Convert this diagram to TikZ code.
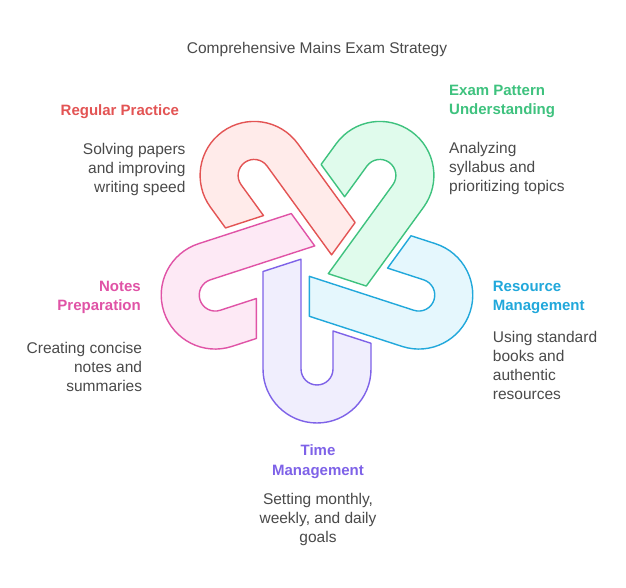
\documentclass[tikz,border=0pt]{standalone}
\usepackage{fontspec}
\setmainfont{Liberation Sans}
\definecolor{redS}{HTML}{E35454}
\definecolor{redF}{HTML}{FFEBEA}
\definecolor{greenS}{HTML}{3EC27E}
\definecolor{greenF}{HTML}{E0FBEC}
\definecolor{blueS}{HTML}{21A8DB}
\definecolor{blueF}{HTML}{E5F7FD}
\definecolor{purpS}{HTML}{7E62E8}
\definecolor{purpF}{HTML}{F0EEFD}
\definecolor{pinkS}{HTML}{E053A6}
\definecolor{pinkF}{HTML}{FDE9F5}
\definecolor{txt}{HTML}{4A4A4A}
\tikzset{
  loopshape/.style={line width=1.4pt, line join=round},
  headtext/.style={font=\fontsize{15}{19.5}\selectfont\bfseries, inner sep=0pt},
  desctext/.style={font=\fontsize{15.5}{19}\selectfont, text=txt, inner sep=0pt},
}
\newcommand{\hairpin}[3]{%
  \begin{scope}[shift={(317,326)}, rotate=#1]
    \draw[loopshape, draw=#2, fill=#3]
      (-54,-9.5) -- (-16,2.8) -- (-16,-107)
      arc[start angle=180, end angle=360, radius=16]
      -- (16,-69) -- (54,-81.3) -- (54,-107)
      arc[start angle=0, end angle=-180, radius=54] -- cycle;
  \end{scope}}
\begin{document}
\begin{tikzpicture}[x=1pt,y=1pt]
\useasboundingbox[fill=white] (0,0) rectangle (626,588);
\coordinate (C) at (317,326);
\hairpin{0}{purpS}{purpF}
\hairpin{-72}{pinkS}{pinkF}
\hairpin{-144}{redS}{redF}
\hairpin{144}{greenS}{greenF}
\hairpin{72}{blueS}{blueF}

\node[desctext] (title) at (317,538.5) {Comprehensive Mains Exam Strategy};

\node[headtext, text=redS, anchor=east] (h1) at (179.3,476.5) {Regular Practice};
\node[desctext, anchor=east, align=right] (d1) at (185.7,418.5) {Solving papers\\and improving\\writing speed};

\node[headtext, text=greenS, anchor=west, align=left] (h2) at (449,486.5) {Exam Pattern\\Understanding};
\node[desctext, anchor=west, align=left] (d2) at (449,419) {Analyzing\\syllabus and\\prioritizing topics};

\node[headtext, text=blueS, anchor=west, align=left] (h3) at (492.7,290.5) {Resource\\Management};
\node[desctext, anchor=west, align=left] (d3) at (492.7,222.2) {Using standard\\books and\\authentic\\resources};

\node[headtext, text=pinkS, anchor=east, align=right] (h4) at (141,290.5) {Notes\\Preparation};
\node[desctext, anchor=east, align=right] (d4) at (142.3,221.2) {Creating concise\\notes and\\summaries};

\node[headtext, text=purpS, align=center] (h5) at (318,126.5) {Time\\Management};
\node[desctext, align=center] (d5) at (318,68.3) {Setting monthly,\\weekly, and daily\\goals};
\end{tikzpicture}
\end{document}
